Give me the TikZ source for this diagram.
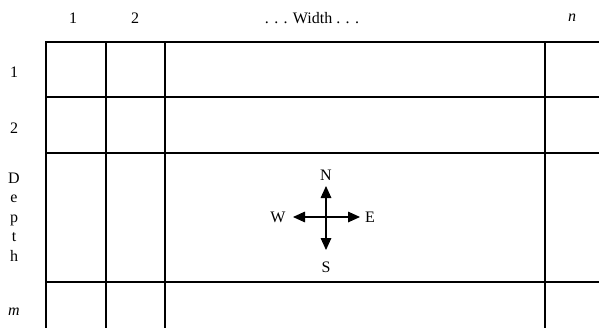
\documentclass[tikz,border=0pt]{standalone}
\usepackage{fontspec}
\setmainfont{Liberation Serif}
\usepackage{tikz}
\usetikzlibrary{arrows.meta,positioning}

\begin{document}
\begin{tikzpicture}[
  x=0.75pt, y=-0.75pt,
  font=\fontsize{12}{14}\selectfont,
  gridline/.style={draw=black, line width=1.5pt, line cap=rect},
  compass/.style={draw=black, line width=0.8pt,
    {Triangle[length=9pt,width=8pt]}-{Triangle[length=9pt,width=8pt]}},
  lbl/.style={inner sep=1pt}
]
\useasboundingbox (0,0) rectangle (599,328);

% grid (open to the right and bottom)
\foreach \x in {46,106,165,545}{
  \draw[gridline] (\x,42) -- (\x,330);
}
\foreach \y in {42,97,153,282}{
  \draw[gridline] (46,\y) -- (601,\y);
}

% width labels
\node[lbl] (w1) at (73,18) {1};
\node[lbl] (w2) at (135,18) {2};
\node[lbl] (wmid) at (312,18) {. . . Width . . .};
\node[lbl] (wn) at (572,18) {\textit{n}};

% depth labels
\node[lbl] (d1) at (14,72) {1};
\node[lbl] (d2) at (14,128) {2};
\node[lbl, align=center, font=\fontsize{12}{14.6}\selectfont] (depth) at (14,217)
  {D\\e\\p\\t\\h};
\node[lbl] (dm) at (14,312) {\textit{m}};

% compass
\coordinate (tipN) at (326,186);
\coordinate (tipS) at (326,250);
\coordinate (tipW) at (293,217);
\coordinate (tipE) at (360,217);
\node[lbl] (N) at (326,175) {N};
\node[lbl] (S) at (326,267) {S};
\node[lbl] (W) at (278,217) {W};
\node[lbl] (E) at (370,217) {E};
\draw[compass] (tipN) -- (tipS);
\draw[compass] (tipW) -- (tipE);

\end{tikzpicture}
\end{document}
